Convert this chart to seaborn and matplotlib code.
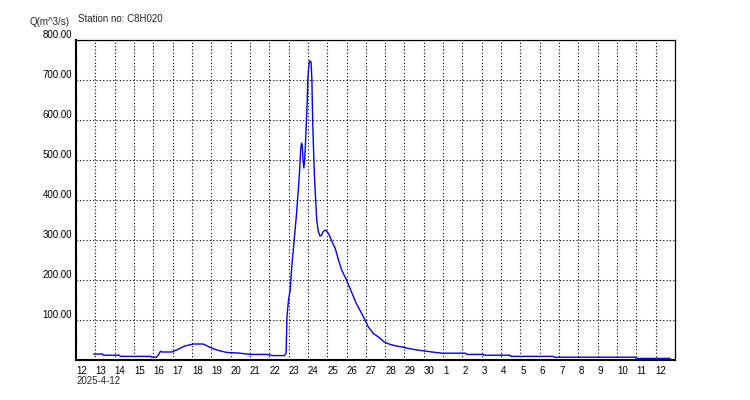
import matplotlib
matplotlib.use("Agg")
import matplotlib.pyplot as plt
import seaborn as sns
import pandas as pd

# discharge record, station C8H020
times = [
    "2025-04-12 22:00", "2025-04-13 09:00", "2025-04-13 10:00", "2025-04-14 06:00",
    "2025-04-14 07:00", "2025-04-15 21:00", "2025-04-15 22:00", "2025-04-16 04:00",
    "2025-04-16 06:00", "2025-04-16 09:00", "2025-04-16 11:00", "2025-04-16 23:00",
    "2025-04-17 07:00", "2025-04-17 15:00", "2025-04-18 02:00", "2025-04-18 14:00",
    "2025-04-18 22:00", "2025-04-19 07:00", "2025-04-19 19:00", "2025-04-20 12:00",
    "2025-04-21 00:00", "2025-04-21 21:00", "2025-04-22 05:00", "2025-04-22 19:00",
    "2025-04-22 21:00", "2025-04-22 22:00",
    "2025-04-23 00:00", "2025-04-23 02:00", "2025-04-23 04:00", "2025-04-23 07:00",
    "2025-04-23 10:00", "2025-04-23 13:00", "2025-04-23 14:00", "2025-04-23 15:00",
    "2025-04-23 16:00", "2025-04-23 17:00", "2025-04-23 18:00", "2025-04-23 19:00",
    "2025-04-23 20:00", "2025-04-23 21:00", "2025-04-23 23:00", "2025-04-24 00:00",
    "2025-04-24 01:00", "2025-04-24 02:00", "2025-04-24 04:00", "2025-04-24 05:00",
    "2025-04-24 06:00", "2025-04-24 08:00", "2025-04-24 10:00", "2025-04-24 11:00",
    "2025-04-24 13:00", "2025-04-24 15:00", "2025-04-24 17:00", "2025-04-24 19:00",
    "2025-04-24 22:00", "2025-04-25 02:00", "2025-04-25 06:00", "2025-04-25 10:00",
    "2025-04-25 14:00", "2025-04-25 18:00", "2025-04-26 00:00", "2025-04-26 06:00",
    "2025-04-26 12:00", "2025-04-26 21:00", "2025-04-27 03:00", "2025-04-27 09:00",
    "2025-04-27 18:00", "2025-04-27 22:00", "2025-04-28 06:00", "2025-04-28 14:00",
    "2025-04-28 22:00", "2025-04-29 07:00", "2025-04-29 16:00", "2025-04-29 23:00",
    "2025-04-30 10:00", "2025-04-30 23:00",
    "2025-05-02 04:00", "2025-05-02 05:00", "2025-05-03 02:00", "2025-05-03 03:00",
    "2025-05-04 11:00", "2025-05-04 12:00", "2025-05-06 17:00", "2025-05-06 18:00",
    "2025-05-10 23:00", "2025-05-11 00:00", "2025-05-12 18:00",
]
flow = [
    15, 15, 12, 12,
    9, 9, 7, 7,
    12, 22, 20, 20,
    27, 35, 40, 40,
    32, 25, 19, 17,
    14, 14, 11, 11,
    18, 108,
    150, 175, 233, 300,
    367, 450, 483, 525,
    542, 537, 500, 480,
    500, 540, 637, 705,
    730, 748, 745, 700,
    592, 467, 387, 350,
    321, 310, 312, 321,
    325, 315, 296, 279,
    250, 225, 200, 171,
    142, 108, 83, 67,
    54, 46, 39, 35,
    32, 28, 25, 23,
    20, 17,
    17, 14, 14, 12,
    12, 9, 9, 7,
    7, 4, 4,
]
y_ticks = [100, 200, 300, 400, 500, 600, 700, 800]
x_start = "2025-04-12"
x_end = "2025-05-13"

df = pd.DataFrame({"time": pd.to_datetime(times), "flow": flow})

sns.set_style("white")
plt.rcParams["font.family"] = ["Liberation Sans", "DejaVu Sans"]
plt.rcParams["font.size"] = 7

fig = plt.figure(figsize=(7.5, 4), dpi=100)
ax = fig.add_axes([76 / 750, 40 / 400, 599 / 750, 320 / 400])

sns.lineplot(data=df, x="time", y="flow", color="#0000ff", linewidth=1.0, ax=ax)

ax.set_xlim(pd.Timestamp(x_start), pd.Timestamp(x_end))
ax.set_ylim(0, 800)

days = pd.date_range("2025-04-12", "2025-05-12", freq="D")
ax.set_xticks(days)
ax.set_xticklabels([str(d.day) for d in days], ha="left")
ax.set_yticks(y_ticks)
ax.set_yticklabels([f"{v:.2f}" for v in y_ticks], va="bottom")

ax.tick_params(axis="x", direction="out", length=3, width=1, pad=1.5, colors="black")
ax.tick_params(axis="y", direction="out", length=2.5, width=1, pad=0.5, colors="black")

ax.grid(True, color="black", linestyle=(0, (1, 2)), linewidth=0.8)
for side in ["left", "bottom"]:
    ax.spines[side].set_linewidth(1.5)
for side in ["top", "right"]:
    ax.spines[side].set_linewidth(0.9)
for sp in ax.spines.values():
    sp.set_color("black")

ax.set_xlabel("")
ax.set_ylabel("")

fig.text(70 / 750, 1 - 22 / 400, "Q(m^3/s)", ha="right", va="center", fontsize=7)
fig.text(78 / 750, 1 - 19 / 400, "Station no: C8H020", ha="left", va="center", fontsize=7)
fig.text(77 / 750, 1 - 381 / 400, "2025-4-12", ha="left", va="center", fontsize=7)

fig.savefig("out.png", dpi=100)
